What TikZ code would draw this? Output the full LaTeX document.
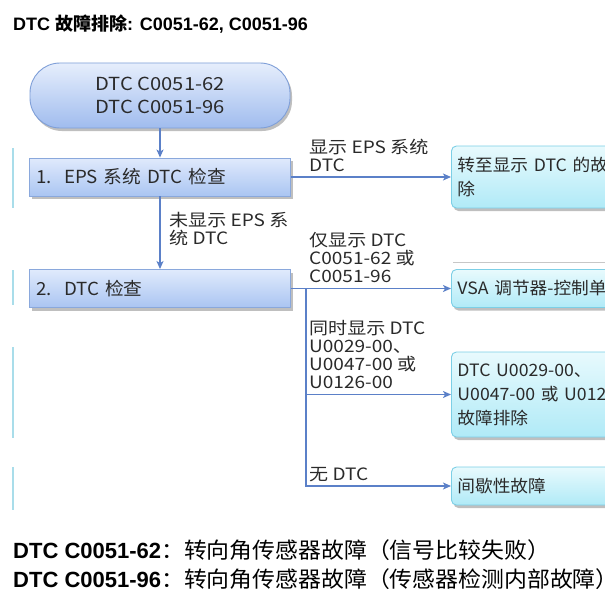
\documentclass[tikz,border=0pt]{standalone}
\usepackage{fontspec}
\newfontfamily\cjk{Noto Sans CJK SC}
\newfontfamily\cjkw[FakeStretch=1.12]{Noto Sans CJK SC}
\newfontfamily\cjkn[FakeStretch=1.04]{Noto Sans CJK SC}
\newfontfamily\arial{Liberation Sans}
\usetikzlibrary{shadows,arrows.meta}
\definecolor{stTop}{HTML}{E6EEFC}
\definecolor{stBot}{HTML}{A0BCEE}
\definecolor{stEdge}{HTML}{7F9FD8}
\definecolor{sbTop}{HTML}{E0EAFC}
\definecolor{sbBot}{HTML}{AAC5F2}
\definecolor{sbEdge}{HTML}{8AA8DC}
\definecolor{rsTop}{HTML}{E8FAFD}
\definecolor{rsBot}{HTML}{B0EAF7}
\definecolor{rsEdge}{HTML}{7CCFE6}
\definecolor{arrc}{HTML}{5B80C8}
\definecolor{txt}{HTML}{2A2A2A}
\definecolor{ghost}{HTML}{A9DDEA}
\begin{document}
\begin{tikzpicture}[x=1pt,y=-1pt,
  shad/.style={drop shadow={shadow xshift=2pt,shadow yshift=-3pt,opacity=0.45,fill=black!55}},
  startbox/.style={draw=stEdge,line width=0.9pt,rounded corners=30pt,top color=stTop,bottom color=stBot,
    minimum width=260pt,minimum height=65pt,align=center,text=txt,
    font=\cjkw\fontsize{18}{23}\selectfont,shad},
  stepbox/.style={draw=sbEdge,line width=0.9pt,top color=sbTop,bottom color=sbBot,
    text width=247pt,inner xsep=7pt,minimum height=38pt,align=left,text=txt,
    font=\cjkn\fontsize{18}{22}\selectfont,shad},
  resbox/.style={draw=rsEdge,line width=0.9pt,rounded corners=5pt,top color=rsTop,bottom color=rsBot,
    text width=200pt,inner xsep=6pt,align=left,anchor=west,text=txt,
    font=\cjkn\fontsize{17}{24}\selectfont,shad},
  lbl/.style={anchor=north west,align=left,inner sep=0pt,text=txt,font=\cjkw\fontsize{17}{18}\selectfont},
  arr/.style={draw=arrc,line width=1.3pt,-{Stealth[length=8pt,width=7pt,inset=2pt]}},
  ln/.style={draw=arrc,line width=1.3pt}
]
\useasboundingbox (0,0) rectangle (605,602);
\fill[white] (0,0) rectangle (605,602);
\begin{scope}
\clip (0,0) rectangle (605,602);
% title
\node[anchor=base west,inner sep=0pt,font=\fontsize{18}{20}\selectfont] (title) at (13,31)
  {\arial\bfseries DTC {\cjk\bfseries 故障排除}: C0051-62, C0051-96};
% faint artefacts
\draw[ghost,line width=1.5pt] (13,148) -- (13,208) (13,270) -- (13,305) (13,347) -- (13,438) (13,467) -- (13,510);
\draw[black!22,line width=0.8pt] (453,262) -- (605,262);
% nodes
\node[startbox] (st) at (160,95.5) {DTC C0051-62\\DTC C0051-96};
\node[stepbox] (b1) at (160,177) {1.\ \ EPS 系统 DTC 检查};
\node[stepbox] (b2) at (160,288.5) {2.\ \ DTC 检查};
\node[resbox,minimum height=62pt] (rA) at (451,177) {转至显示 DTC 的故障排\\除};
\node[resbox,minimum height=38pt] (rB) at (451,288.5) {VSA 调节器-控制单元};
\node[resbox,minimum height=85pt] (rC) at (451,394.5) {DTC U0029-00、\\U0047-00 或 U0126-00\\故障排除};
\node[resbox,minimum height=38pt] (rD) at (451,486) {间歇性故障};
% connectors
\draw[arr] (st.south) -- (b1.north);
\draw[arr] (b1.south) -- (b2.north);
\draw[arr] (b1.east) -- (rA.west);
\coordinate (tr) at (306,288.5);
\draw[ln] (b2.east) -- (tr);
\draw[arr] (tr) -- (rB.west);
\draw[arr] (tr) |- (rC.west);
\draw[arr] (tr) |- (rD.west);
% labels
\node[lbl] (l1) at (309,139) {显示 EPS 系统\\DTC};
\node[lbl] (l2) at (169,212) {未显示 EPS 系\\统 DTC};
\node[lbl] (l3) at (309,232) {仅显示 DTC\\C0051-62 或\\C0051-96};
\node[lbl] (l4) at (309,320) {同时显示 DTC\\U0029-00、\\U0047-00 或\\U0126-00};
\node[lbl] (l5) at (309,467) {无 DTC};
% notes
\node[anchor=base west,inner sep=0pt,font=\fontsize{22}{24}\selectfont] (n1) at (13,558)
  {{\arial\bfseries DTC C0051-62}{\cjkn ：转向角传感器故障（信号比较失败）}};
\node[anchor=base west,inner sep=0pt,font=\fontsize{22}{24}\selectfont] (n2) at (13,587)
  {{\arial\bfseries DTC C0051-96}{\cjkn ：转向角传感器故障（传感器检测内部故障）}};
\end{scope}
\end{tikzpicture}
\end{document}
